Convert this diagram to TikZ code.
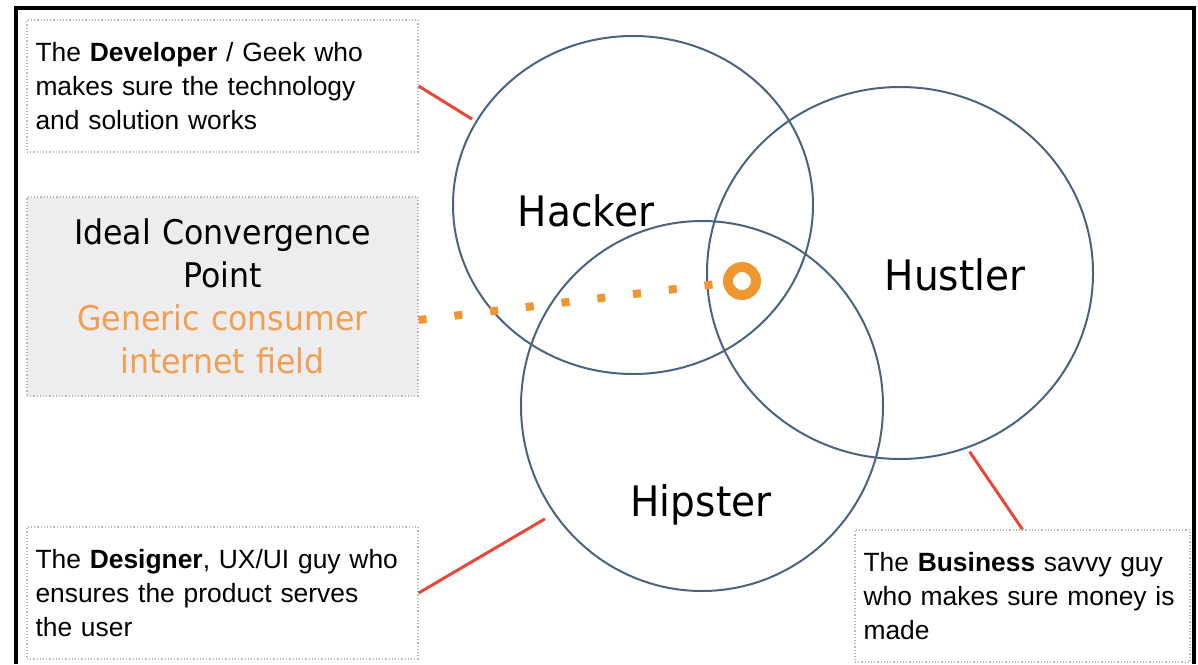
\documentclass[tikz,border=0pt]{standalone}
\usepackage{fontspec}
\setmainfont{Liberation Sans}
\newfontfamily\labelfont{DejaVu Sans}[FakeStretch=0.93]
\usetikzlibrary{shapes.geometric}

\definecolor{ringblue}{RGB}{75,98,128}
\definecolor{linkred}{RGB}{232,72,58}
\definecolor{dotorange}{RGB}{240,150,48}
\definecolor{textorange}{RGB}{240,160,80}
\definecolor{boxgray}{RGB}{237,237,240}
\definecolor{edgegray}{RGB}{185,185,185}

\begin{document}
\begin{tikzpicture}[x=0.5pt,y=-0.5pt,
    info box/.style={draw=edgegray,densely dotted,line width=0.6pt,inner xsep=4.25pt,inner ysep=0pt,
        text width=187pt,minimum height=66pt,align=left,font=\fontsize{13.2}{17}\selectfont},
    venn circle/.style={ellipse,draw=ringblue,line width=1pt,inner sep=0pt},
    venn label/.style={anchor=base,font=\labelfont\fontsize{21}{25}\selectfont},
    link/.style={draw=linkred,line width=1.5pt}]
        \useasboundingbox (0,0) rectangle (1198,664);
        \draw[line width=2pt] (16,664) -- (16,8) -- (1194,8) -- (1194,664);

        % the three circles
        \node[venn circle,minimum width=180pt,minimum height=169pt] (hacker) at (633,205) {};
        \node[venn circle,minimum width=193pt,minimum height=186pt] (hustler) at (900,273) {};
        \node[venn circle,minimum width=181pt,minimum height=185pt] (hipster) at (702,406) {};
        \node[venn label] (hackerlbl) at (586,226) {Hacker};
        \node[venn label] (hustlerlbl) at (955,290) {Hustler};
        \node[venn label] (hipsterlbl) at (701,516) {Hipster};

        % boxes
        \node[info box] (dev) at (222.5,86) {The \textbf{Developer} / Geek who\\makes sure the technology\\and solution works};
        \node[info box,fill=boxgray,minimum height=99.5pt,align=center,
            font=\labelfont\fontsize{17}{21.5}\selectfont] (ideal) at (222.5,296.5)
            {Ideal Convergence\\Point\\\textcolor{textorange}{Generic consumer}\\\textcolor{textorange}{internet field}};
        \node[info box] (des) at (222.5,593) {The \textbf{Designer}, UX/UI guy who\\ensures the product serves\\the user};
        \node[info box,text width=159pt] (biz) at (1022.5,596) {The \textbf{Business} savvy guy\\who makes sure money is\\made};

        \node[circle,draw=dotorange,line width=5pt,minimum size=14pt,inner sep=0pt] (conv) at (742,281) {};

        \path (dev.east) edge[link,shorten >=2pt] (hacker.152)
            (des.east) edge[link,shorten >=5pt] (hipster.216)
            (hustler.-69) edge[link,shorten <=2pt] (biz.north);
        \draw[dotorange,line width=4pt,dash pattern=on 4pt off 14pt] ([yshift=-11.75pt]ideal.east) -- (conv);
\end{tikzpicture}
\end{document}
